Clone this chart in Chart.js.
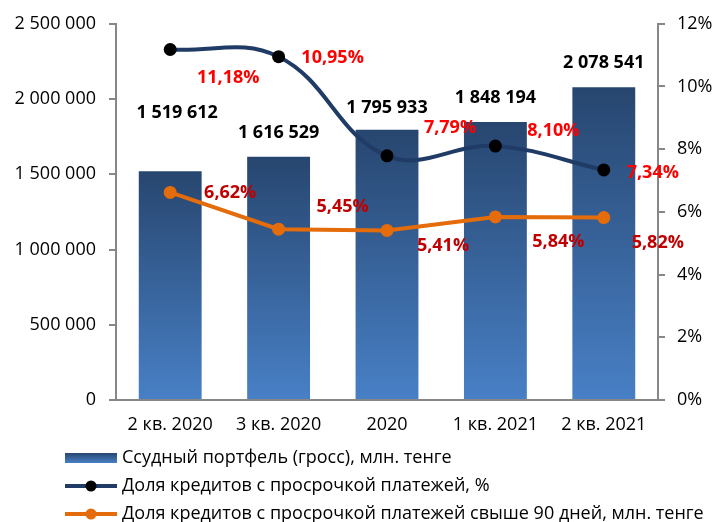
<!DOCTYPE html>
<html>
<head>
<meta charset="utf-8">
<script src="https://cdn.jsdelivr.net/npm/chart.js@4/dist/chart.umd.min.js"></script>
<style>
  html,body{margin:0;padding:0;background:#fff;}
  #wrap{width:715px;height:522px;}
</style>
</head>
<body>
<div id="wrap"><canvas id="chart" width="715" height="522"></canvas></div>
<script>
// data
const categories=['2 кв. 2020','3 кв. 2020','2020','1 кв. 2021','2 кв. 2021'];
const portfolio=[1519612,1616529,1795933,1848194,2078541];
const overdueShare=[11.18,10.95,7.79,8.10,7.34];
const overdue90Share=[6.62,5.45,5.41,5.84,5.82];
const leftTicks=[0,500000,1000000,1500000,2000000,2500000];
const rightTicks=[0,2,4,6,8,10,12];

const seriesNames=[
  'Ссудный портфель (гросс), млн. тенге',
  'Доля кредитов с просрочкой платежей, %',
  'Доля кредитов с просрочкой платежей свыше 90 дней, млн. тенге'
];

// label nudges (px) relative to the mark
const barLabelShift=[[7,-58],[0,-24],[0,-22],[0,-24],[0,-24]];
const line1LabelShift=[[58,28],[54,1],[63,-28],[58,-15],[49,3]];
const line2LabelShift=[[60,0],[64,-22],[56,15],[63,25],[54,25]];

const FONT='"Open Sans", "Noto Sans", sans-serif';
const AXIS='#878787';

function fmtNum(v){ return String(v).replace(/\B(?=(\d{3})+(?!\d))/g,' '); }
function fmtPct(v){ return v.toFixed(2).replace('.',',')+'%'; }

// per-bar vertical gradient
function barFill(ctx){
  const chart=ctx.chart;
  const y=chart.scales && chart.scales.y;
  if(!y || ctx.dataIndex===undefined) return '#36609a';
  const top=y.getPixelForValue(portfolio[ctx.dataIndex]);
  const base=y.getPixelForValue(0);
  if(!isFinite(top) || !isFinite(base) || top===base) return '#36609a';
  const g=chart.ctx.createLinearGradient(0,top,0,base);
  g.addColorStop(0,'#27466f');
  g.addColorStop(1,'#4880c6');
  return g;
}

const valueLabels={
  id:'valueLabels',
  afterDatasetsDraw(chart){
    const c=chart.ctx;
    c.save();
    c.textAlign='center'; c.textBaseline='middle';
    c.font='bold 18px '+FONT;
    const sets=[
      {i:0, shift:barLabelShift, color:'#000', fmt:fmtNum},
      {i:1, shift:line1LabelShift, color:'#ff0000', fmt:fmtPct},
      {i:2, shift:line2LabelShift, color:'#c00000', fmt:fmtPct}
    ];
    sets.forEach(s=>{
      const meta=chart.getDatasetMeta(s.i);
      const vals=chart.data.datasets[s.i].data;
      c.fillStyle=s.color;
      meta.data.forEach((el,k)=>{
        c.fillText(s.fmt(vals[k]), el.x+s.shift[k][0], el.y+s.shift[k][1]);
      });
    });
    c.restore();
  }
};

// stacked legend under the plot
const stackedLegend={
  id:'stackedLegend',
  afterDraw(chart){
    const c=chart.ctx;
    const rows=[458,486,514];
    const x0=65, x1=117;
    c.save();
    c.font='18px '+FONT;
    c.textBaseline='middle'; c.textAlign='left';
    chart.data.datasets.forEach((ds,i)=>{
      const y=rows[i];
      if(ds.type==='bar'){
        const g=c.createLinearGradient(0,y-5,0,y+5);
        g.addColorStop(0,'#27466f'); g.addColorStop(1,'#4880c6');
        c.fillStyle=g; c.fillRect(x0,y-5,x1-x0,10);
      }else{
        c.strokeStyle=ds.borderColor; c.lineWidth=4;
        c.beginPath(); c.moveTo(x0,y); c.lineTo(x1,y); c.stroke();
        c.fillStyle=ds.pointBackgroundColor;
        c.beginPath(); c.arc((x0+x1)/2,y,5.5,0,Math.PI*2); c.fill();
      }
      c.fillStyle='#000';
      c.fillText(ds.label,x1+5,y);
    });
    c.restore();
  }
};

new Chart(document.getElementById('chart'),{
  data:{
    labels:categories,
    datasets:[
      {type:'bar', label:seriesNames[0], data:portfolio, yAxisID:'y',
       backgroundColor:barFill, barPercentage:0.58, categoryPercentage:1, order:3},
      {type:'line', label:seriesNames[1], data:overdueShare, yAxisID:'y1',
       borderColor:'#1f3b66', borderWidth:4, tension:0.4,
       pointRadius:6.5, pointBackgroundColor:'#000', pointBorderColor:'#000', pointBorderWidth:0, order:1},
      {type:'line', label:seriesNames[2], data:overdue90Share, yAxisID:'y1',
       borderColor:'#e46c0a', borderWidth:4, tension:0,
       pointRadius:6.5, pointBackgroundColor:'#e46c0a', pointBorderColor:'#e46c0a', pointBorderWidth:0, order:2}
    ]
  },
  options:{
    responsive:false,
    animation:false,
    layout:{padding:{top:23,bottom:82,left:0,right:0}},
    plugins:{legend:{display:false}, tooltip:{enabled:false}},
    scales:{
      x:{
        grid:{display:false, drawTicks:false},
        border:{display:true, color:AXIS, width:2},
        ticks:{color:'#000', font:{family:FONT,size:18}, padding:14},
        afterFit(s){ s.height=40; }
      },
      y:{
        position:'left', min:0, max:2500000,
        afterBuildTicks(s){ s.ticks=leftTicks.map(v=>({value:v})); },
        grid:{drawOnChartArea:false, drawTicks:true, tickLength:7, color:AXIS, lineWidth:2},
        border:{display:true, color:AXIS, width:2},
        ticks:{color:'#000', font:{family:FONT,size:18}, padding:13, callback:v=>fmtNum(v)},
        afterFit(s){ s.width=116; }
      },
      y1:{
        position:'right', min:0, max:12,
        afterBuildTicks(s){ s.ticks=rightTicks.map(v=>({value:v})); },
        grid:{drawOnChartArea:false, drawTicks:true, tickLength:7, color:AXIS, lineWidth:2},
        border:{display:true, color:AXIS, width:2},
        ticks:{color:'#000', font:{family:FONT,size:18}, padding:12, callback:v=>v+'%'},
        afterFit(s){ s.width=57; }
      }
    }
  },
  plugins:[valueLabels, stackedLegend]
});
</script>
</body>
</html>
